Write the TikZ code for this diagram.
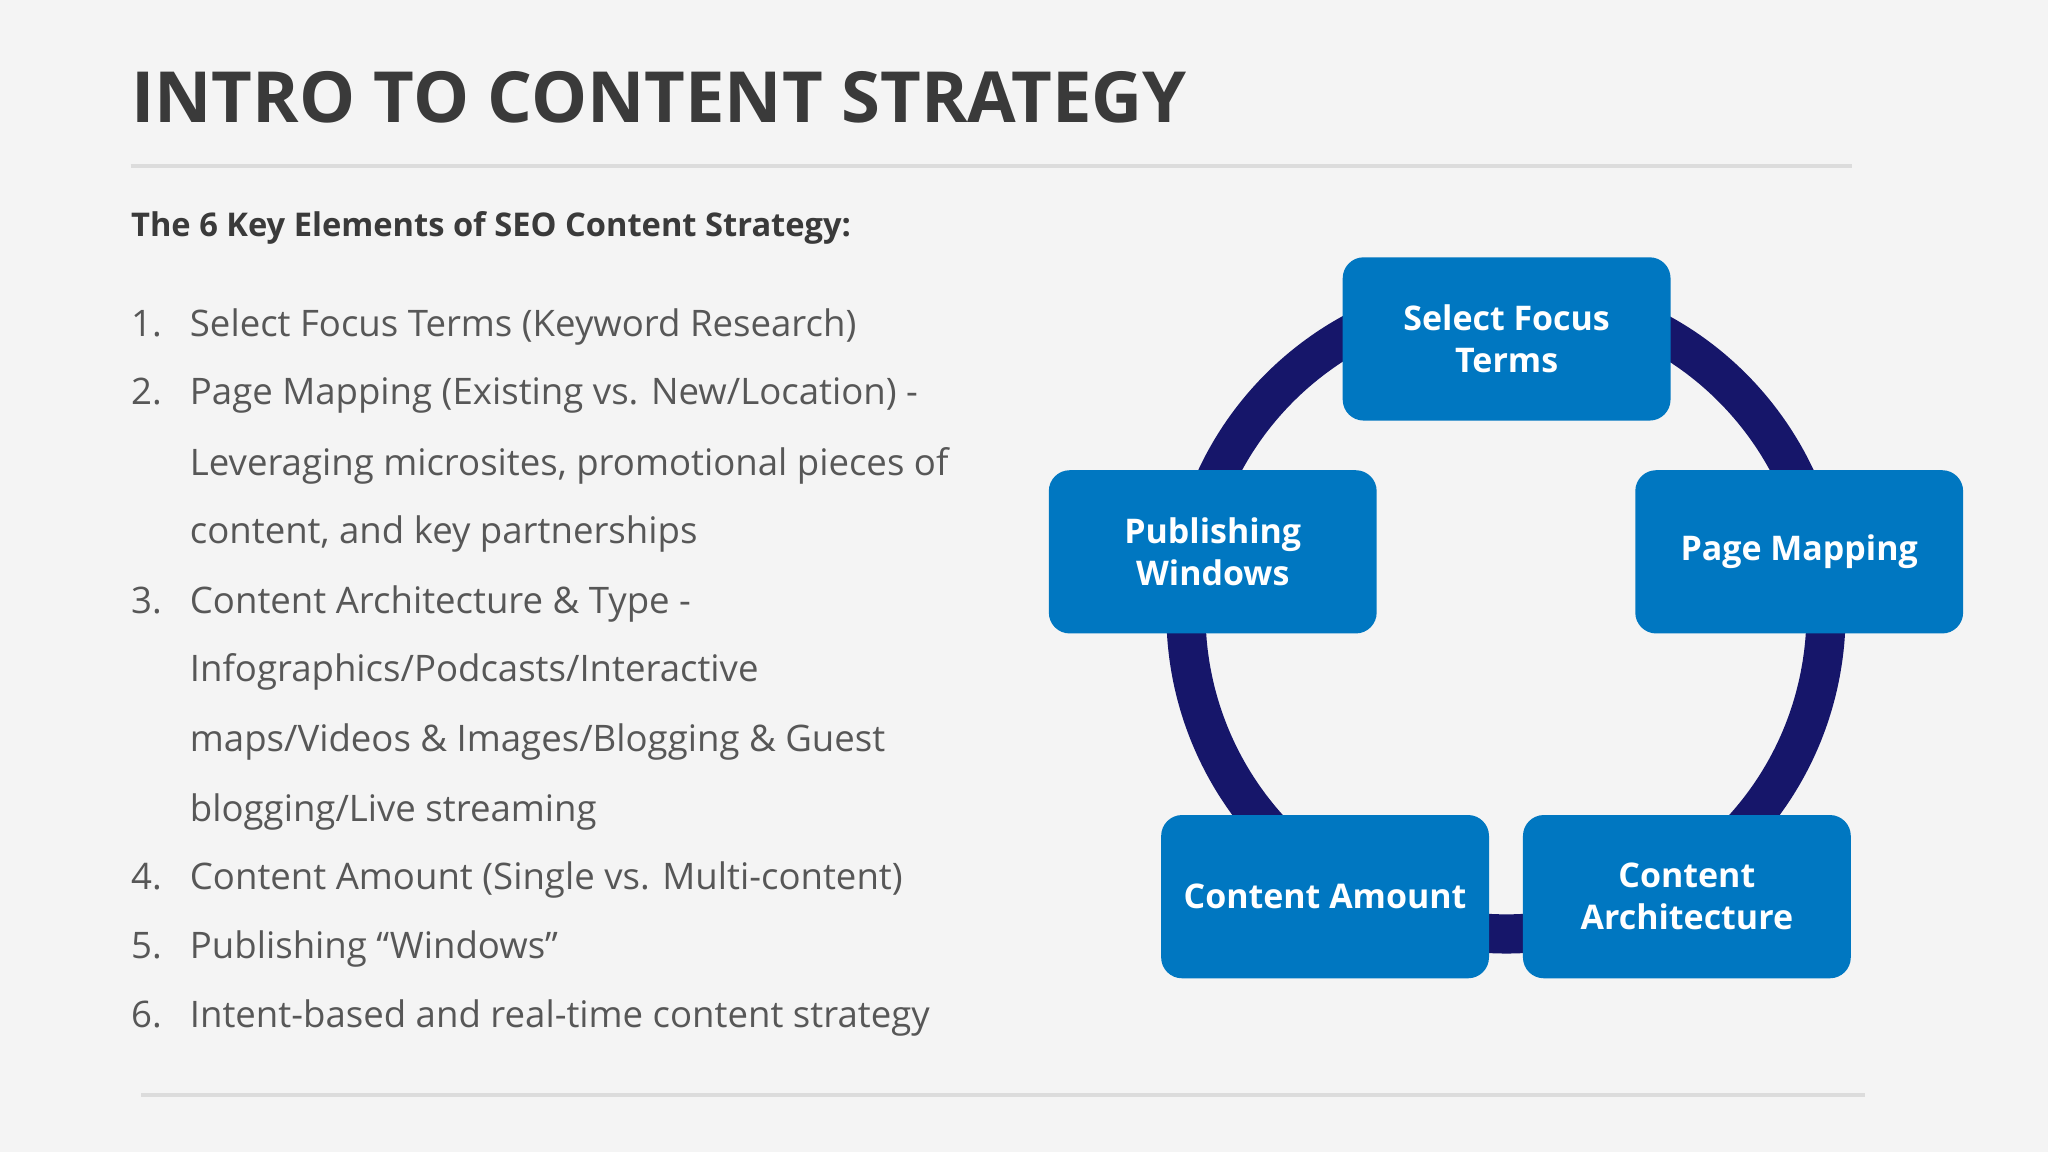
\documentclass[tikz,border=0pt]{standalone}
\usepackage{fontspec}
\setmainfont{Open Sans}
\usetikzlibrary{arrows.meta}
\definecolor{bg}{HTML}{F4F4F4}
\definecolor{boxblue}{HTML}{0077C1}
\definecolor{navy}{HTML}{16166A}
\definecolor{txt}{HTML}{3A3A3A}
\definecolor{rule}{HTML}{DCDCDC}
\tikzset{
  stepbox/.style={fill=boxblue, rounded corners=8pt, minimum width=125.5pt, minimum height=62.5pt,
    text=white, font=\bfseries\fontsize{13}{16}\selectfont, align=center, inner sep=0pt},
  itemtxt/.style={anchor=base west, inner sep=0pt, text=txt!85, font=\fontsize{14}{17}\selectfont},
}
\begin{document}
\begin{tikzpicture}[x=0.5pt,y=-0.5pt]
\useasboundingbox (0,0) rectangle (1568,882);
\fill[bg] (0,0) rectangle (1568,882);
\node[anchor=base west, inner sep=0pt, text=txt, font=\bfseries\fontsize{27}{32}\selectfont] (title) at (100,94) {INTRO TO CONTENT STRATEGY};
\draw[rule, line width=1.5pt] (100,127) coordinate (r1a) -- (1418,127) coordinate (r1b);
\draw[rule, line width=1.5pt] (108,838) coordinate (r2a) -- (1428,838) coordinate (r2b);
\node[anchor=base west, inner sep=0pt, text=txt, font=\bfseries\fontsize{12.5}{15}\selectfont] (sub) at (100,181) {The 6 Key Elements of SEO Content Strategy:};
\foreach \n/\y in {1./258,2./310,3./470,4./681,5./734,6./787}
  \node[itemtxt] at (100,\y) {\n};
\node[itemtxt] (i1) at (145,258) {Select Focus Terms (Keyword Research)};
\node[itemtxt] (i2) at (145,310) {Page Mapping (Existing vs. New/Location) -};
\node[itemtxt] (i2b) at (145,364) {Leveraging microsites, promotional pieces of};
\node[itemtxt] (i2c) at (145,416) {content, and key partnerships};
\node[itemtxt] (i3) at (145,470) {Content Architecture \& Type -};
\node[itemtxt] (i3b) at (145,522) {Infographics/Podcasts/Interactive};
\node[itemtxt] (i3c) at (145,575) {maps/Videos \& Images/Blogging \& Guest};
\node[itemtxt] (i3d) at (145,629) {blogging/Live streaming};
\node[itemtxt] (i4) at (145,681) {Content Amount (Single vs. Multi-content)};
\node[itemtxt] (i5) at (145,734) {Publishing “Windows”};
\node[itemtxt] (i6) at (145,787) {Intent-based and real-time content strategy};
% ring
\coordinate (c) at (1153,470);
\draw[navy, line width=15pt] (c) ++(100:245) arc[start angle=100, end angle=-233, radius=245];
\draw[navy, line width=15pt, -{Triangle[length=20pt, width=32pt]}] (c) ++(-233:245) arc[start angle=-233, end angle=-249, radius=245];
\node[stepbox] (s1) at (1153.5,259.5) {Select Focus\\Terms};
\node[stepbox] (s2) at (1377.5,422.5) {Page Mapping};
\node[stepbox] (s3) at (1291.5,686.5) {Content\\Architecture};
\node[stepbox] (s4) at (1014.5,686.5) {Content Amount};
\node[stepbox] (s5) at (928.5,422.5) {Publishing\\Windows};
\end{tikzpicture}
\end{document}
